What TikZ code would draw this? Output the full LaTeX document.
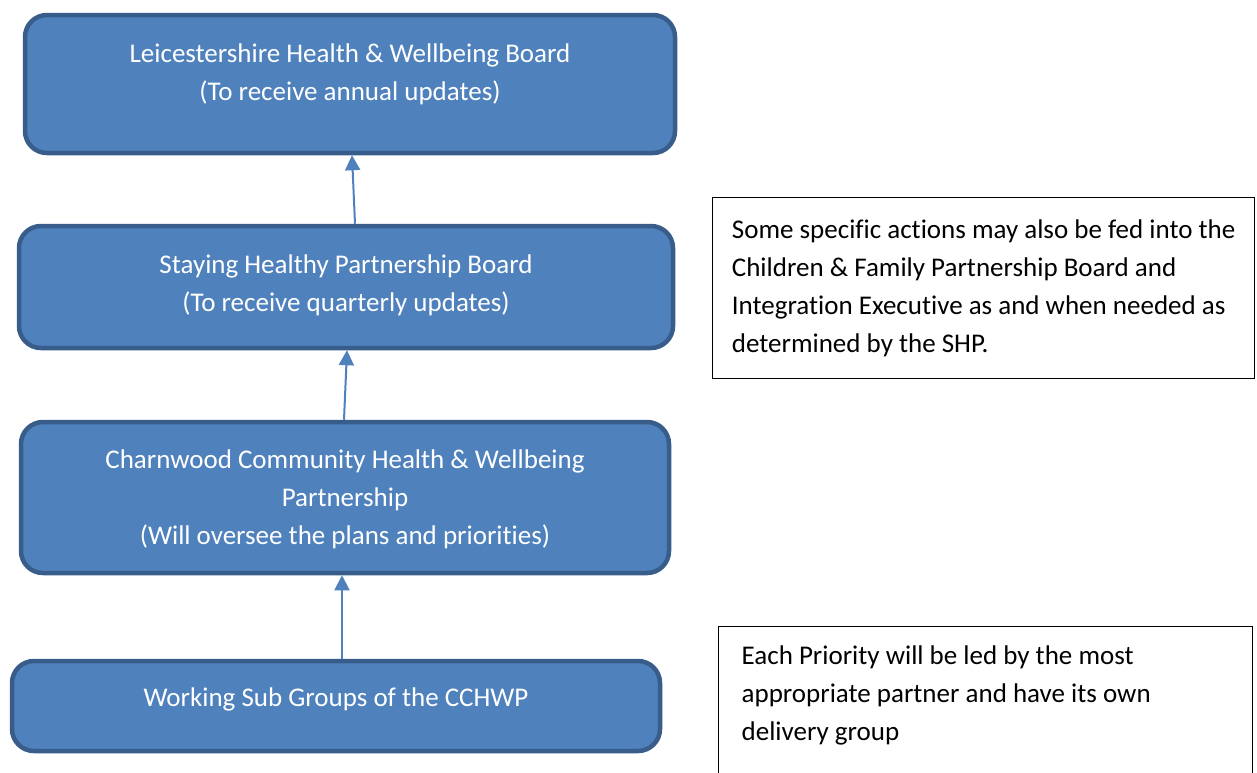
\documentclass[tikz,border=0pt]{standalone}
\usepackage{fontspec}
\setmainfont{Carlito}[Ligatures=NoCommon]
\usetikzlibrary{arrows.meta}
\definecolor{boardblue}{HTML}{4F81BD}
\definecolor{boardedge}{HTML}{385D8A}
\tikzset{
  board/.style={
    rounded corners=22pt,
    draw=boardedge,
    fill=boardblue,
    line width=4.5pt,
    inner sep=0pt
  },
  boardtext/.style={
    text=white,
    align=center,
    font=\fontsize{27}{38}\selectfont
  },
  notebox/.style={
    draw=black,
    line width=1.3pt,
    anchor=north west,
    align=flush left,
    inner xsep=19pt,
    inner ysep=0pt,
    font=\fontsize{27}{38}\selectfont
  },
  arrow/.style={
    -{Triangle[length=15pt,width=15pt]},
    line width=2pt,
    draw=boardblue
  }
}

\begin{document}
\begin{tikzpicture}[x=1pt,y=-1pt]
\path[use as bounding box, fill=white] (0,0) rectangle (1257,772);

% reporting chain, bottom to top
\node[board, minimum width=650pt, minimum height=138pt,
  label={[boardtext, yshift=10pt]center:Leicestershire Health \& Wellbeing Board\\(To receive annual updates)}]
  (hwb) at (350,84) {};
\node[board, minimum width=654pt, minimum height=122pt,
  label={[boardtext, yshift=2pt]center:Staying Healthy Partnership Board\\(To receive quarterly updates)}]
  (shp) at (346,287) {};
\node[board, minimum width=648pt, minimum height=151pt,
  label={[boardtext, yshift=-2pt]center:Charnwood Community Health \& Wellbeing\\Partnership\\(Will oversee the plans and priorities)}]
  (cchwp) at (345,497.5) {};
\node[board, minimum width=648pt, minimum height=90pt,
  label={[boardtext, yshift=7pt]center:Working Sub Groups of the CCHWP}]
  (subgroups) at (336,706) {};

\draw[arrow] ([xshift=6pt]subgroups.north) -- ([xshift=-3pt]cchwp.south);
\draw[arrow] ([xshift=-1pt]cchwp.north) -- ([xshift=1pt]shp.south);
\draw[arrow] ([xshift=9pt]shp.north) -- ([xshift=2pt]hwb.south);

% side notes
\node[notebox, align=left, minimum width=542pt, minimum height=181pt] (shpnote) at (712,197)
  {Some specific actions may also be fed into the\\Children \& Family Partnership Board and\\Integration Executive as and when needed as\\determined by the SHP.};
\node[notebox, inner xsep=23pt, text width=488pt, minimum height=171pt] (prioritynote) at (718,626)
  {Each Priority will be led by the most\\appropriate partner and have its own\\delivery group\\\mbox{}};
\end{tikzpicture}
\end{document}
